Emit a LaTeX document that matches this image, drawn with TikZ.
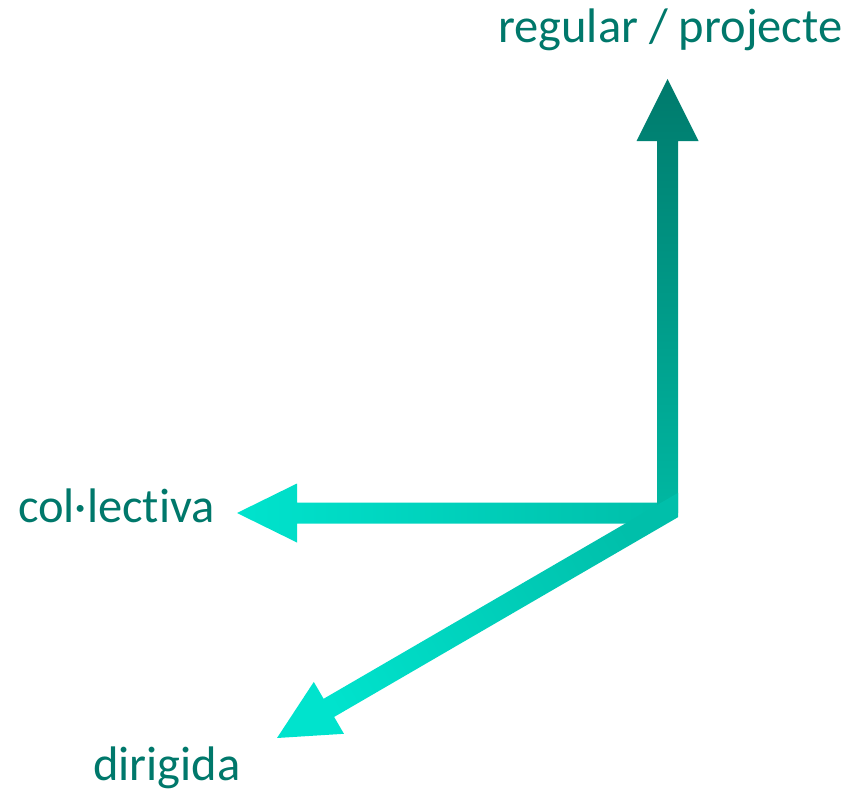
\documentclass[tikz,border=0pt]{standalone}
\usepackage{fontspec}
\setmainfont[Ligatures=NoCommon]{Carlito}
\usetikzlibrary{calc}
\definecolor{txtc}{HTML}{00786B}
\definecolor{darkc}{HTML}{007A6C}
\definecolor{midc}{HTML}{00B8A2}
\definecolor{joinc}{HTML}{00BFAA}
\definecolor{tipc}{HTML}{00E3CD}
\tikzset{
  lbl/.style={anchor=base west, inner sep=0pt, text=txtc, font=\fontsize{48.5}{56}\selectfont},
}
\begin{document}
\begin{tikzpicture}[x=1pt,y=-1pt]
\useasboundingbox (0,0) rectangle (849,792);
% key points
\coordinate (o) at (667.5,513);
\coordinate (vtip) at (667.5,79);
\coordinate (htip) at (237,513);
\coordinate (dtip) at (277,738);
\coordinate (dstart) at (678,505);
\coordinate (dE1) at (678,492.9);
\coordinate (dE2) at (678,517.2);
\coordinate (dB) at ($(dtip)!60pt!(dstart)$);
\coordinate (dB1) at ($(dB)!10.5pt!90:(dtip)$);
\coordinate (dB2) at ($(dB)!10.5pt!-90:(dtip)$);
\coordinate (dH1) at ($(dB)!30pt!90:(dtip)$);
\coordinate (dH2) at ($(dB)!30pt!-90:(dtip)$);
% horizontal arrow
\shade[left color=tipc, right color=joinc]
  ($(o)+(-7.5,-10.5)$) -- ($(htip)+(60,-10.5)$) -- ($(htip)+(60,-29.5)$) -- (htip)
  -- ($(htip)+(60,29.5)$) -- ($(htip)+(60,10.5)$) -- ($(o)+(-7.5,10.5)$) -- cycle;
% vertical arrow
\shade[top color=darkc, bottom color=midc]
  ($(o)+(-10.5,0)$) -- ($(vtip)+(-10.5,62)$) -- ($(vtip)+(-31,62)$) -- (vtip)
  -- ($(vtip)+(31,62)$) -- ($(vtip)+(10.5,62)$) -- ($(o)+(10.5,0)$) -- cycle;
% diagonal arrow
\shade[top color=tipc, bottom color=joinc, shading angle=120]
  (dE1) -- (dB2) -- (dH2) -- (dtip) -- (dH1) -- (dB1) -- (dE2) -- cycle;
% labels
\node[lbl] (lreg) at (498,43) {regular / projecte};
\node[lbl] (lcol) at (18,522) {col·lectiva};
\node[lbl] (ldir) at (93,780) {dirigida};
\end{tikzpicture}
\end{document}
